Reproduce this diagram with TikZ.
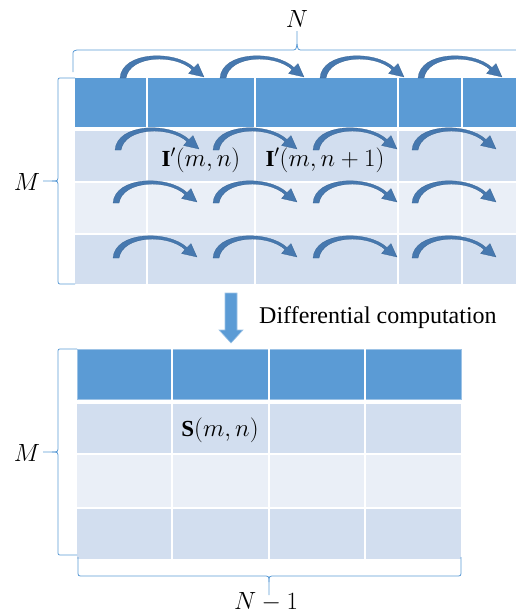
\documentclass[tikz,border=0pt]{standalone}
\usepackage{fontspec}
\setmainfont{Liberation Serif}
\usetikzlibrary{arrows.meta}
\definecolor{hdr}{RGB}{91,155,213}
\definecolor{rowA}{RGB}{210,222,239}
\definecolor{rowB}{RGB}{234,239,247}
\definecolor{arr}{RGB}{70,120,175}
\definecolor{arrd}{RGB}{55,98,145}
\definecolor{brc}{RGB}{91,155,213}
\definecolor{edge}{RGB}{157,195,230}
\tikzset{
  carr/.style={fill=arr, draw=arrd, line width=0.25pt, line join=round},
  brace/.style={draw=brc, line width=0.8pt},
  mlabel/.style={inner sep=0pt, font=\fontsize{23}{27}\selectfont},
  tlabel/.style={inner sep=0pt, anchor=west, font=\fontsize{24}{28}\selectfont},
  vline/.style={draw=white, line width=1.6pt}
}
\newcommand{\curvarrow}[2]{\filldraw[carr, shift={(#1,#2)}] (0,0)
  .. controls (2,-27) and (55,-28) .. (74,-10.5) -- (78,-14.5) -- (84,-1)
  -- (68.5,-4.5) -- (72,-8.5) .. controls (55,-24) and (10,-23) .. (6,0) -- cycle;}
\begin{document}
\begin{tikzpicture}[x=1pt,y=-1pt]
\useasboundingbox (0,0) rectangle (516,614);
% ---------- top table ----------
\fill[hdr]  (75,78)  rectangle (520,127);
\fill[rowA] (75,131) rectangle (520,181);
\fill[rowB] (75,183) rectangle (520,233);
\fill[rowA] (75,235) rectangle (520,284);
\foreach \x in {147,255,398,462} {\draw[vline] (\x,78) -- (\x,284);}
% ---------- bottom table ----------
\fill[hdr]  (77,349) rectangle (461,399);
\fill[rowA] (77,404) rectangle (461,453);
\fill[rowB] (77,455) rectangle (461,507);
\fill[rowA] (77,509) rectangle (461,559);
\draw[edge, line width=0.6pt] (77,349) rectangle (461,399);
\foreach \x in {172,269,365} {\draw[vline] (\x,349) -- (\x,559);}
% ---------- curved arrows ----------
\foreach \x in {120,220,320,418} {\curvarrow{\x}{78}}
\foreach \x in {115,213,313,412} {\curvarrow{\x}{150}}
\foreach \x in {113,213,313,412} {\curvarrow{\x}{203}}
\foreach \x in {113,213,313,412} {\curvarrow{\x}{258}}
% ---------- labels in cells ----------
\node[mlabel] (i1) at (201,160) {$\mathbf{I}'(m,n)$};
\node[mlabel] (i2) at (325,160) {$\mathbf{I}'(m,n+1)$};
\node[mlabel] (s1) at (220,430) {$\mathbf{S}(m,n)$};
% ---------- braces ----------
\draw[brace] (73,72) -- (73,55) .. controls (73,51) .. (77,50) -- (291,50)
  .. controls (296,50) .. (297,44) -- (297,31);
\draw[brace] (297,44) .. controls (298,50) .. (303,50) -- (520,50);
\node[mlabel] (N) at (297,19) {$N$};
\draw[brace] (75,78) -- (62,78) .. controls (58,78) .. (58,82) -- (58,175)
  .. controls (58,181) .. (52,181) -- (43,181);
\draw[brace] (52,181) .. controls (58,181) .. (58,187) -- (58,279)
  .. controls (58,284) .. (62,284) -- (75,284);
\node[mlabel] (M1) at (27,182) {$M$};
\draw[brace] (77,349) -- (62,349) .. controls (58,349) .. (58,353) -- (58,446)
  .. controls (58,452) .. (52,452) -- (43,452);
\draw[brace] (52,452) .. controls (58,452) .. (58,458) -- (58,551)
  .. controls (58,555) .. (62,555) -- (77,555);
\node[mlabel] (M2) at (27,453) {$M$};
\draw[brace] (78,557) -- (78,571) .. controls (78,576) .. (83,576) -- (263,576)
  .. controls (269,576) .. (269,582) -- (269,595);
\draw[brace] (269,582) .. controls (269,576) .. (275,576) -- (456,576)
  .. controls (461,576) .. (461,571) -- (461,557);
\node[mlabel] (N1) at (266,602) {$N-1$};
% ---------- down block arrow ----------
\draw[fill=hdr, draw=edge, line width=0.6pt] (225,293) -- (237,293) -- (237,330) -- (243,330)
  -- (231,343) -- (219,330) -- (225,330) -- cycle;
\node[tlabel] (dc) at (259,318) {Differential computation};
\end{tikzpicture}
\end{document}
